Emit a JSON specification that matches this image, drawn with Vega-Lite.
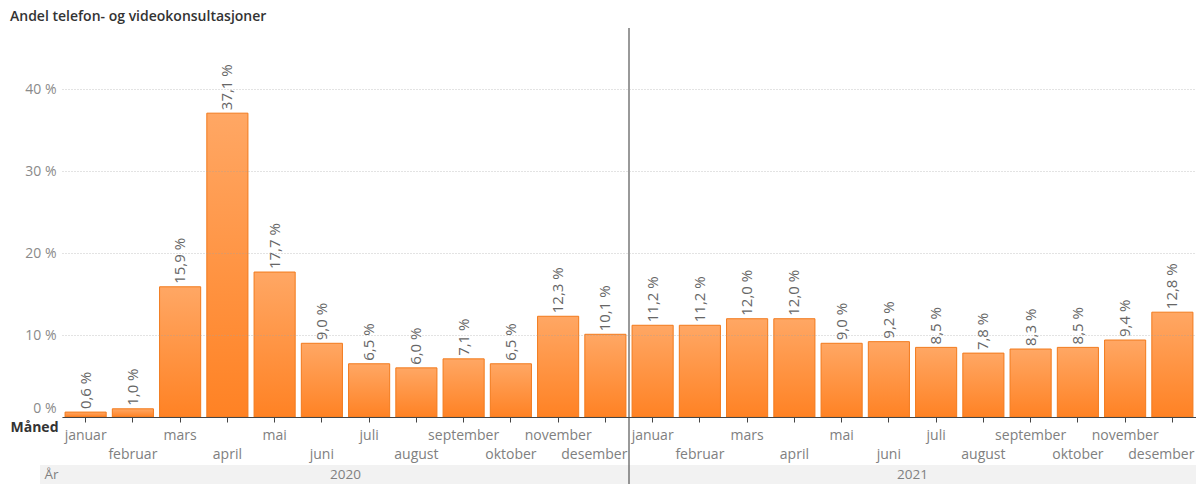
{
  "$schema": "https://vega.github.io/schema/vega-lite/v6.json",
  "autosize": "none",
  "width": 1134,
  "height": 389,
  "padding": {"left": 62, "top": 28, "right": 0, "bottom": 67},
  "background": "white",
  "config": {
    "font": "Open Sans",
    "view": {"stroke": null}
  },
  "title": {
    "text": "Andel telefon- og videokonsultasjoner",
    "anchor": "start",
    "frame": "group",
    "dx": -52,
    "offset": 3,
    "fontSize": 14,
    "fontWeight": 600,
    "color": "#333333",
    "font": "Open Sans"
  },
  "data": {
    "values": [
      {"m": "2020-01", "year": "2020", "v": 0.6},
      {"m": "2020-02", "year": "2020", "v": 1.0},
      {"m": "2020-03", "year": "2020", "v": 15.9},
      {"m": "2020-04", "year": "2020", "v": 37.1},
      {"m": "2020-05", "year": "2020", "v": 17.7},
      {"m": "2020-06", "year": "2020", "v": 9.0},
      {"m": "2020-07", "year": "2020", "v": 6.5},
      {"m": "2020-08", "year": "2020", "v": 6.0},
      {"m": "2020-09", "year": "2020", "v": 7.1},
      {"m": "2020-10", "year": "2020", "v": 6.5},
      {"m": "2020-11", "year": "2020", "v": 12.3},
      {"m": "2020-12", "year": "2020", "v": 10.1},
      {"m": "2021-01", "year": "2021", "v": 11.2},
      {"m": "2021-02", "year": "2021", "v": 11.2},
      {"m": "2021-03", "year": "2021", "v": 12.0},
      {"m": "2021-04", "year": "2021", "v": 12.0},
      {"m": "2021-05", "year": "2021", "v": 9.0},
      {"m": "2021-06", "year": "2021", "v": 9.2},
      {"m": "2021-07", "year": "2021", "v": 8.5},
      {"m": "2021-08", "year": "2021", "v": 7.8},
      {"m": "2021-09", "year": "2021", "v": 8.3},
      {"m": "2021-10", "year": "2021", "v": 8.5},
      {"m": "2021-11", "year": "2021", "v": 9.4},
      {"m": "2021-12", "year": "2021", "v": 12.8}
    ]
  },
  "encoding": {
    "y": {
      "type": "quantitative",
      "scale": {"domain": [0, 47.5], "nice": false},
      "axis": {
        "title": null,
        "values": [0, 10, 20, 30, 40],
        "labelExpr": "datum.value + ' %'",
        "labelFont": "Open Sans",
        "labelFontSize": 14,
        "labelColor": "#8a8a8a",
        "labelPadding": 6,
        "labelOffset": {"condition": {"test": "datum.value == 0", "value": -9}, "value": 0},
        "domain": false,
        "ticks": false,
        "grid": true,
        "gridColor": "#a0a0a0",
        "gridOpacity": 0.6,
        "gridDash": [1, 2],
        "zindex": 1
      }
    }
  },
  "layer": [
    {
      "encoding": {
        "x": {
          "field": "m",
          "type": "nominal",
          "sort": null,
          "scale": {"paddingInner": 0.13, "paddingOuter": 0.065},
          "axis": {
            "title": "Måned",
            "titleFont": "Open Sans",
            "titleFontSize": 14,
            "titleFontWeight": "bold",
            "titleColor": "#333333",
            "titleAnchor": "start",
            "titleAlign": "left",
            "titleBaseline": "middle",
            "titleX": -52,
            "titleY": 10,
            "domainColor": "#444444",
            "domainWidth": 1,
            "ticks": true,
            "tickColor": "#444444",
            "tickSize": 5,
            "labelPadding": 6,
            "labelAngle": 0,
            "labelFont": "Open Sans",
            "labelFontSize": 14,
            "labelColor": "#808080",
            "labelLineHeight": 19,
            "labelBaseline": "top",
            "labelOverlap": false,
            "labelBound": false,
            "labelAlign": {
              "condition": {"test": "substring(datum.value, 5, 7) == '12'", "value": "right"},
              "value": "center"
            },
            "labelOffset": {
              "condition": {"test": "substring(datum.value, 5, 7) == '12'", "value": 22},
              "value": 0
            },
            "labelExpr": "parseInt(substring(datum.value, 5, 7)) % 2 == 0 ? ['', ['januar','februar','mars','april','mai','juni','juli','august','september','oktober','november','desember'][parseInt(substring(datum.value, 5, 7)) - 1]] : ['januar','februar','mars','april','mai','juni','juli','august','september','oktober','november','desember'][parseInt(substring(datum.value, 5, 7)) - 1]",
            "grid": false,
            "zindex": 1
          }
        }
      },
      "layer": [
        {
          "mark": {
            "type": "bar",
            "fill": {
              "gradient": "linear",
              "x1": 0, "y1": 0, "x2": 0, "y2": 1,
              "stops": [
                {"offset": 0, "color": "#ffa764"},
                {"offset": 1, "color": "#ff8224"}
              ]
            },
            "stroke": "#f27a1c",
            "strokeWidth": 1
          },
          "encoding": {
            "y": {"field": "v", "type": "quantitative"}
          }
        },
        {
          "transform": [
            {"calculate": "replace(format(datum.v, '.1f'), '.', ',') + ' %'", "as": "lbl"}
          ],
          "mark": {
            "type": "text",
            "angle": 270,
            "align": "left",
            "baseline": "middle",
            "dx": 3,
            "font": "Open Sans",
            "fontSize": 15,
            "color": "#666666"
          },
          "encoding": {
            "y": {"field": "v", "type": "quantitative"},
            "text": {"field": "lbl", "type": "nominal"}
          }
        }
      ]
    },
    {
      "transform": [
        {"aggregate": [{"op": "count", "as": "n"}], "groupby": ["year"]}
      ],
      "encoding": {
        "x": {
          "field": "year",
          "type": "nominal",
          "scale": {"domain": ["2020", "2021"], "paddingInner": 0, "paddingOuter": 0},
          "axis": {
            "orient": "bottom",
            "offset": 57.5,
            "title": "År",
            "titleFont": "Open Sans",
            "titleFontSize": 13.5,
            "titleFontWeight": "normal",
            "titleColor": "#808080",
            "titleAnchor": "start",
            "titleAlign": "left",
            "titleBaseline": "middle",
            "titleX": -18,
            "titleY": 0,
            "domain": false,
            "ticks": false,
            "labelPadding": 0,
            "labelBaseline": "middle",
            "labelAngle": 0,
            "labelFont": "Open Sans",
            "labelFontSize": 13.5,
            "labelColor": "#808080",
            "grid": false,
            "zindex": 1
          }
        }
      },
      "layer": [
        {
          "transform": [{"filter": "datum.year == '2020'"}],
          "mark": {"type": "rect", "color": "#f2f2f2", "xOffset": -22},
          "encoding": {
            "x": {"field": "year", "type": "nominal", "bandPosition": 0},
            "x2": {"datum": "2021", "bandPosition": 1},
            "y": {"datum": -5.85},
            "y2": {"datum": -8.2}
          }
        },
        {
          "transform": [{"filter": "datum.year == '2021'"}],
          "mark": {"type": "rule", "color": "#555555", "strokeWidth": 1.2},
          "encoding": {
            "x": {"field": "year", "type": "nominal", "bandPosition": 0},
            "y": {"datum": 47.5},
            "y2": {"datum": -8.2}
          }
        }
      ]
    }
  ],
  "resolve": {"scale": {"x": "independent"}, "axis": {"x": "independent"}}
}
